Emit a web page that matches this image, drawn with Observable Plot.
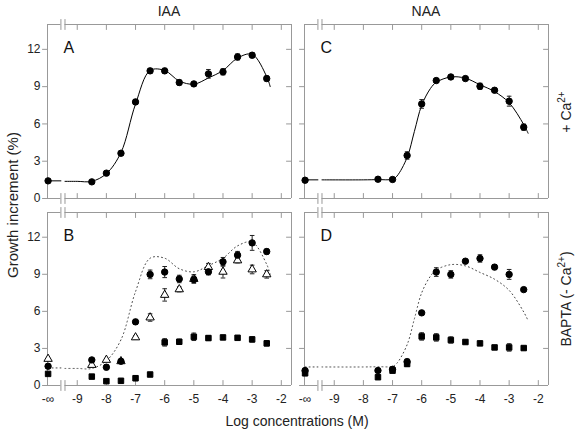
<!DOCTYPE html>
<html><head><meta charset="utf-8">
<script src="https://cdn.jsdelivr.net/npm/d3@7"></script>
<script src="https://cdn.jsdelivr.net/npm/@observablehq/plot@0.6"></script>
<style>
body{margin:0;background:#fff;}
#chart{position:relative;width:576px;height:432px;font-family:"Liberation Sans",Arial,sans-serif;color:#222;overflow:hidden;}
#chart svg{position:absolute;left:0;top:0;}
.t{position:absolute;transform:translate(-50%,-50%);font-size:14px;white-space:nowrap;line-height:1;}
.r{transform:translate(-50%,-50%) rotate(-90deg);}
sup{font-size:10px;vertical-align:6px;line-height:0;}
</style></head>
<body><div id="chart">
<div class="t" style="left:169px;top:11px">IAA</div>
<div class="t" style="left:426px;top:11px">NAA</div>
<div class="t r" style="left:12px;top:205px;font-size:15px">Growth increment (%)</div>
<div class="t r" style="left:566px;top:112px">+ Ca<sup>2+</sup></div>
<div class="t r" style="left:566px;top:299px">BAPTA (- Ca<sup>2+</sup>)</div>
<div class="t" style="left:297px;top:421px">Log concentrations (M)</div>
</div>
<script>
// ---- data ----
const NEG_INF = -10; // position used for "-∞"
const concIAA = [NEG_INF, -8.5, -8, -7.5, -7, -6.5, -6, -5.5, -5, -4.5, -4, -3.5, -3, -2.5];
const concNAA = [NEG_INF, -7.5, -7, -6.5, -6, -5.5, -5, -4.5, -4, -3.5, -3, -2.5];

// Panel A: IAA + Ca2+
const iaaCa    = [1.42, 1.34, 2.04, 3.64, 7.77, 10.27, 10.27, 9.33, 9.22, 10.03, 10.19, 11.39, 11.53, 9.65];
const iaaCaErr = [0, 0, 0.15, 0.15, 0.2, 0.2, 0.2, 0.2, 0.15, 0.35, 0.25, 0.25, 0.2, 0.2];
// Panel B: IAA, BAPTA
const iaaBcirc    = [1.56, 2.07, 1.48, 1.96, 5.15, 8.99, 9.18, 8.62, 8.59, 9.2, 10.01, 10.55, 11.54, 10.84];
const iaaBcircErr = [0, 0, 0.2, 0, 0.2, 0.35, 0.45, 0.3, 0.25, 0.25, 0.35, 0.3, 0.6, 0.2];
const iaaBtri     = [2.15, 1.66, 2.07, 1.96, 3.89, 5.5, 7.33, 7.78, 8.62, 9.58, 9.2, 10.12, 9.39, 8.99];
const iaaBtriErr  = [0, 0, 0, 0, 0.15, 0.3, 0.5, 0.2, 0.35, 0.3, 0.5, 0.2, 0.35, 0.3];
const iaaBsq      = [0.94, 0.72, 0.35, 0.38, 0.59, 0.89, 3.49, 3.54, 3.94, 3.84, 3.89, 3.86, 3.73, 3.41];
const iaaBsqErr   = [0, 0, 0, 0, 0.2, 0.1, 0.3, 0.2, 0.3, 0.2, 0.15, 0.15, 0.2, 0.2];
// Panel C: NAA + Ca2+
const naaCa    = [1.47, 1.55, 1.53, 3.46, 7.61, 9.49, 9.78, 9.65, 9.03, 8.71, 7.83, 5.74];
const naaCaErr = [0, 0, 0, 0.3, 0.35, 0.15, 0.15, 0.15, 0.25, 0.15, 0.4, 0.25];
// Panel D: NAA, BAPTA
const naaBcirc    = [1.21, 1.21, 1.31, 1.93, 5.88, 9.18, 8.99, 10.06, 10.28, 9.58, 8.99, 7.76];
const naaBcircErr = [0, 0, 0.15, 0.2, 0.15, 0.35, 0.3, 0.15, 0.3, 0.2, 0.4, 0.15];
const naaBsq      = [0.99, 0.67, 1.2, 1.74, 3.97, 3.89, 3.68, 3.52, 3.41, 3.08, 3.08, 3.03];
const naaBsqErr   = [0.2, 0, 0.15, 0.2, 0.3, 0.3, 0.25, 0.15, 0.15, 0.15, 0.3, 0.15];

// fitted curves (NaN = axis break)
const fitIAAx = [-10, -9.56, -9.5, -9.42, -9, -8.5, -8, -7.5, -7, -6.5, -6, -5.5, -5, -4.5, -4, -3.5, -3, -2.5, -2.38];
const fitIAAy = [1.42, 1.42, NaN, 1.38, 1.38, 1.38, 2.0, 3.7, 7.6, 10.3, 10.3, 9.45, 9.2, 9.7, 10.3, 11.3, 11.6, 9.8, 9.0];
const fitNAAx = [-10, -9.56, -9.5, -9.42, -8, -7.5, -7, -6.85, -6.5, -6.25, -6, -5.7, -5.5, -5, -4.5, -4, -3.5, -3, -2.5, -2.35];
const fitNAAy = [1.5, 1.5, NaN, 1.5, 1.5, 1.52, 1.55, 1.8, 3.3, 5.4, 7.5, 8.85, 9.35, 9.78, 9.68, 9.15, 8.6, 7.7, 5.95, 5.25];

// ---- axes ----
const xDomain = [-10.02, -1.65];
const yDomain = [0, 14];
const breakAt = [-9.56, -9.42];
const xTicks = [-9, -8, -7, -6, -5, -4, -3, -2];
const xLabelTicks = [NEG_INF, ...xTicks];
const yTicks = [0, 3, 6, 9, 12];
const gray = "#999";

const lineShape = {draw(ctx, l) { ctx.moveTo(0, 0); ctx.lineTo(0, -l); }};
const capShape = {draw(ctx, size) { const w = Math.sqrt(size / Math.PI); ctx.moveTo(-w, 0); ctx.lineTo(w, 0); }};

function panel(p) {
  const W = 576, H = 432;
  const breaks = [];
  for (const bx of breakAt) for (const by of yDomain) breaks.push({x: bx, y: by});
  const marks = [
    Plot.ruleX(xDomain, {stroke: gray}),
    Plot.ruleY(yDomain, {x1: xDomain[0], x2: breakAt[0], stroke: gray}),
    Plot.ruleY(yDomain, {x1: breakAt[1], x2: xDomain[1], stroke: gray}),
    Plot.vector(breaks, {x: "x", y: "y", length: 10, anchor: "middle", shape: lineShape, stroke: gray, strokeWidth: 1}),
    Plot.vector(xTicks, {x: d => d, y: yDomain[0], length: 5, rotate: 0, anchor: "start", shape: lineShape, stroke: gray, strokeWidth: 1}),
    Plot.vector(xTicks, {x: d => d, y: yDomain[1], length: 5, rotate: 180, anchor: "start", shape: lineShape, stroke: gray, strokeWidth: 1}),
    Plot.vector(yTicks, {x: xDomain[0], y: d => d, length: 5, rotate: 270, anchor: "start", shape: lineShape, stroke: gray, strokeWidth: 1}),
    Plot.vector(yTicks.slice(1), {x: xDomain[1], y: d => d, length: 5, rotate: 270, anchor: "start", shape: lineShape, stroke: gray, strokeWidth: 1})
  ];
  if (p.xLabels) marks.push(Plot.axisX({anchor: "bottom", ticks: xLabelTicks, tickFormat: d => d === NEG_INF ? "-\u221E" : String(d), tickSize: 0, tickPadding: 9, label: null, fill: "#222"}));
  if (p.yLabels) marks.push(Plot.axisY({anchor: "left", ticks: yTicks, tickFormat: d => String(d), tickSize: 0, tickPadding: 7, label: null, fill: "#222"}));
  // fitted curve
  const fi = d3.range(p.fitX.length);
  marks.push(Plot.line(fi, {x: i => p.fitX[i], y: i => p.fitY[i], curve: "catmull-rom", stroke: p.dotted ? "#444" : "black", strokeWidth: 1, strokeDasharray: p.dotted ? "1,3" : null}));
  // series
  for (const s of p.series) {
    const idx = d3.range(s.y.length).filter(i => s.err[i] > 0);
    marks.push(Plot.ruleX(idx, {x: i => s.x[i], y1: i => s.y[i] - s.err[i], y2: i => s.y[i] + s.err[i], stroke: "#222", strokeWidth: 1}));
    marks.push(Plot.dot(idx, {x: i => s.x[i], y: i => s.y[i] - s.err[i], symbol: capShape, r: 2.3, stroke: "#222", strokeWidth: 1}));
    marks.push(Plot.dot(idx, {x: i => s.x[i], y: i => s.y[i] + s.err[i], symbol: capShape, r: 2.3, stroke: "#222", strokeWidth: 1}));
  }
  for (const s of p.series) {
    const all = d3.range(s.y.length);
    marks.push(Plot.dot(all, {x: i => s.x[i], y: i => s.y[i], symbol: s.symbol, r: s.r, fill: s.fill, stroke: s.stroke, strokeWidth: 1}));
  }
  marks.push(Plot.text([p.letter], {text: d => d, frameAnchor: "top-left", dx: 16, dy: 17, lineAnchor: "top", textAnchor: "start", fontSize: 16, fill: "#111"}));
  return Plot.plot({
    width: W, height: H,
    marginLeft: p.x0, marginRight: W - p.x1, marginTop: p.y0, marginBottom: H - p.y1,
    x: {domain: xDomain, axis: null},
    y: {domain: yDomain, axis: null},
    style: {background: "transparent", fontFamily: "Liberation Sans, Arial, sans-serif", fontSize: "12px", overflow: "visible"},
    marks
  });
}

const circ = (x, y, err) => ({x, y, err, symbol: "circle", r: 3.2, fill: "black", stroke: "black"});
const sq = (x, y, err) => ({x, y, err, symbol: "square", r: 3.1, fill: "black", stroke: "black"});
const tri = (x, y, err) => ({x, y, err, symbol: "triangle", r: 3.1, fill: "white", stroke: "black"});

const chart = document.getElementById("chart");
chart.append(panel({x0: 47, x1: 291, y0: 24, y1: 198, letter: "A", xLabels: false, yLabels: true,
  fitX: fitIAAx, fitY: fitIAAy, dotted: false, series: [circ(concIAA, iaaCa, iaaCaErr)]}));
chart.append(panel({x0: 47, x1: 291, y0: 212, y1: 385, letter: "B", xLabels: true, yLabels: true,
  fitX: fitIAAx, fitY: fitIAAy, dotted: true,
  series: [tri(concIAA, iaaBtri, iaaBtriErr), circ(concIAA, iaaBcirc, iaaBcircErr), sq(concIAA, iaaBsq, iaaBsqErr)]}));
chart.append(panel({x0: 304, x1: 548, y0: 24, y1: 198, letter: "C", xLabels: false, yLabels: false,
  fitX: fitNAAx, fitY: fitNAAy, dotted: false, series: [circ(concNAA, naaCa, naaCaErr)]}));
chart.append(panel({x0: 304, x1: 548, y0: 212, y1: 385, letter: "D", xLabels: true, yLabels: false,
  fitX: fitNAAx, fitY: fitNAAy, dotted: true,
  series: [circ(concNAA, naaBcirc, naaBcircErr), sq(concNAA, naaBsq, naaBsqErr)]}));
</script>
</body></html>
